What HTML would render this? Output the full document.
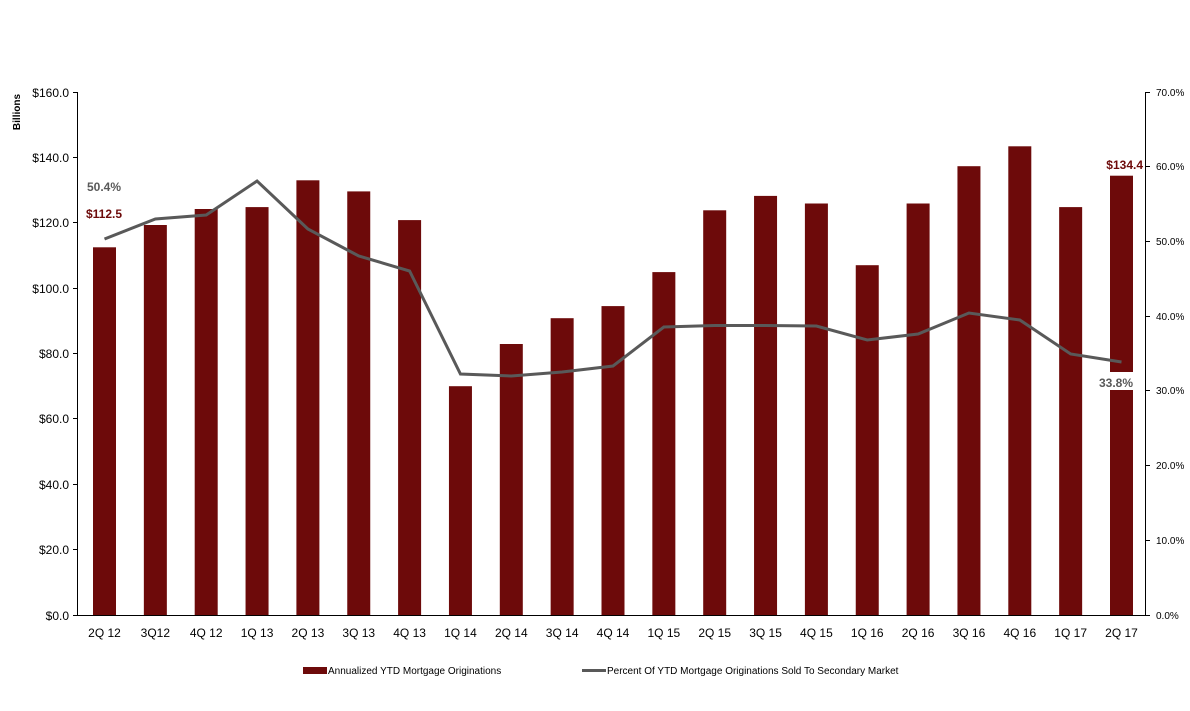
<!DOCTYPE html>
<html><head><meta charset="utf-8"><style>
body{margin:0;background:#fff}
svg{display:block;font-family:"Liberation Sans",sans-serif}
.t{font-size:12px;fill:#000}
</style></head><body>
<svg width="1190" height="711" viewBox="0 0 1190 711">
<text x="20" y="112" transform="rotate(-90 20 112)" text-anchor="middle" style="font-weight:bold;font-size:10px">Billions</text>
<g fill="#6d0a0a">
<rect x="93" y="247.3" width="23" height="367.7"/>
<rect x="143.85" y="225" width="23" height="390"/>
<rect x="194.7" y="209" width="23" height="406"/>
<rect x="245.55" y="207.1" width="23" height="407.9"/>
<rect x="296.4" y="180.3" width="23" height="434.7"/>
<rect x="347.25" y="191.4" width="23" height="423.6"/>
<rect x="398.1" y="220.1" width="23" height="394.9"/>
<rect x="448.95" y="386.2" width="23" height="228.8"/>
<rect x="499.8" y="344" width="23" height="271"/>
<rect x="550.65" y="318.2" width="23" height="296.8"/>
<rect x="601.5" y="306.1" width="23" height="308.9"/>
<rect x="652.35" y="272.1" width="23" height="342.9"/>
<rect x="703.2" y="210.3" width="23" height="404.7"/>
<rect x="754.05" y="195.9" width="23" height="419.1"/>
<rect x="804.9" y="203.5" width="23" height="411.5"/>
<rect x="855.75" y="265.2" width="23" height="349.8"/>
<rect x="906.6" y="203.5" width="23" height="411.5"/>
<rect x="957.45" y="166.2" width="23" height="448.8"/>
<rect x="1008.3" y="146.3" width="23" height="468.7"/>
<rect x="1059.15" y="207.1" width="23" height="407.9"/>
<rect x="1110" y="175.7" width="23" height="439.3"/>
</g>
<rect x="1108" y="372" width="27" height="18" fill="#fff"/>
<polyline fill="none" stroke="#595959" stroke-width="3" points="104.5,239 155.35,219 206.2,215 257.05,181 307.9,229 358.75,256 409.6,271 460.45,374 511.3,376 562.15,372 613,366 663.85,327 714.7,325.5 765.55,325.5 816.4,326 867.25,340 918.1,334 968.95,313 1019.8,320 1070.65,354 1121.5,362"/>
<g stroke="#000" stroke-width="1">
<line x1="77.5" y1="92" x2="77.5" y2="615"/>
<line x1="1145.5" y1="92" x2="1145.5" y2="615"/>
<line x1="77" y1="615.5" x2="1146" y2="615.5"/>
<line x1="73" y1="92.5" x2="77" y2="92.5"/><line x1="73" y1="157.5" x2="77" y2="157.5"/><line x1="73" y1="222.5" x2="77" y2="222.5"/><line x1="73" y1="288.5" x2="77" y2="288.5"/><line x1="73" y1="353.5" x2="77" y2="353.5"/><line x1="73" y1="418.5" x2="77" y2="418.5"/><line x1="73" y1="484.5" x2="77" y2="484.5"/><line x1="73" y1="549.5" x2="77" y2="549.5"/><line x1="73" y1="615.5" x2="77" y2="615.5"/>
<line x1="1146" y1="92.5" x2="1150" y2="92.5"/><line x1="1146" y1="166.5" x2="1150" y2="166.5"/><line x1="1146" y1="241.5" x2="1150" y2="241.5"/><line x1="1146" y1="316.5" x2="1150" y2="316.5"/><line x1="1146" y1="390.5" x2="1150" y2="390.5"/><line x1="1146" y1="465.5" x2="1150" y2="465.5"/><line x1="1146" y1="540.5" x2="1150" y2="540.5"/><line x1="1146" y1="615.5" x2="1150" y2="615.5"/>
</g>
<g class="t" text-anchor="end">
<text x="69" y="97">$160.0</text><text x="69" y="162">$140.0</text><text x="69" y="227">$120.0</text><text x="69" y="293">$100.0</text><text x="69" y="358">$80.0</text><text x="69" y="423">$60.0</text><text x="69" y="489">$40.0</text><text x="69" y="554">$20.0</text><text x="69" y="620">$0.0</text>
</g>
<g class="t" style="font-size:10px">
<text x="1156" y="96">70.0%</text><text x="1156" y="170">60.0%</text><text x="1156" y="245">50.0%</text><text x="1156" y="320">40.0%</text><text x="1156" y="394">30.0%</text><text x="1156" y="469">20.0%</text><text x="1156" y="544">10.0%</text><text x="1156" y="619">0.0%</text>
</g>
<g class="t" text-anchor="middle">
<text x="104.5" y="637">2Q 12</text><text x="155.35" y="637">3Q12</text><text x="206.2" y="637">4Q 12</text><text x="257.05" y="637">1Q 13</text><text x="307.9" y="637">2Q 13</text><text x="358.75" y="637">3Q 13</text><text x="409.6" y="637">4Q 13</text><text x="460.45" y="637">1Q 14</text><text x="511.3" y="637">2Q 14</text><text x="562.15" y="637">3Q 14</text><text x="613" y="637">4Q 14</text><text x="663.85" y="637">1Q 15</text><text x="714.7" y="637">2Q 15</text><text x="765.55" y="637">3Q 15</text><text x="816.4" y="637">4Q 15</text><text x="867.25" y="637">1Q 16</text><text x="918.1" y="637">2Q 16</text><text x="968.95" y="637">3Q 16</text><text x="1019.8" y="637">4Q 16</text><text x="1070.65" y="637">1Q 17</text><text x="1121.5" y="637">2Q 17</text>
</g>
<g style="font-weight:bold;font-size:12px">
<text x="87" y="191" fill="#595959">50.4%</text>
<text x="86" y="218" fill="#6d0a0a">$112.5</text>
<text x="1143" y="169" fill="#6d0a0a" text-anchor="end">$134.4</text>
<text x="1133" y="387" fill="#595959" text-anchor="end">33.8%</text>
</g>
<rect x="303" y="667" width="24" height="7" fill="#6d0a0a"/>
<text x="328" y="674" style="font-size:10px">Annualized YTD Mortgage Originations</text>
<line x1="582" y1="670.5" x2="606" y2="670.5" stroke="#595959" stroke-width="3"/>
<text x="607" y="674" style="font-size:10px">Percent Of YTD Mortgage Originations Sold To Secondary Market</text>
</svg>
</body></html>
